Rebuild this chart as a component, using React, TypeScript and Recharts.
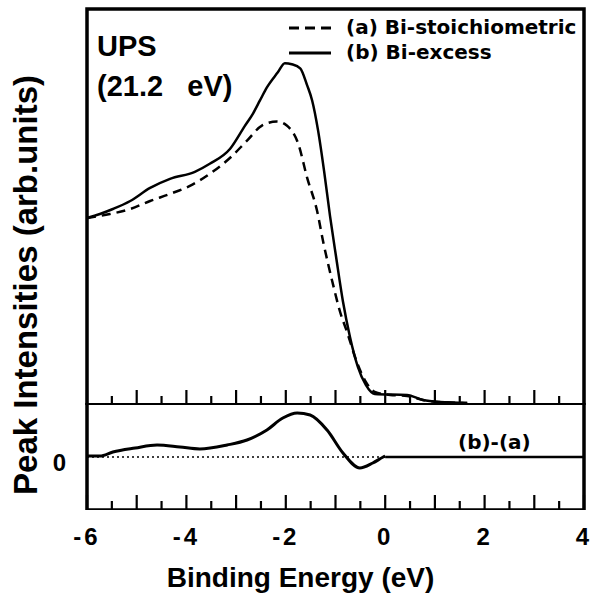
import { LineChart, Line, XAxis, YAxis, ReferenceArea, Legend, Label } from "recharts";

// binding energy axis (eV): long ticks every 1 eV, short ticks between, labels every 2 eV
const MAJOR_TICKS = [-6, -5, -4, -3, -2, -1, 0, 1, 2, 3, 4];
const MINOR_TICKS = [-5.5, -4.5, -3.5, -2.5, -1.5, -0.5, 0.5, 1.5, 2.5, 3.5];
const LABEL_TICKS = [-6, -4, -2, 0, 2, 4];

// (a) Bi-stoichiometric, dashed
const energyA = [-6, -5.54, -5.13, -4.73, -4.33, -3.93, -3.53, -3.12, -2.78, -2.48, -2.18, -1.98, -1.75, -1.57, -1.37, -1.25, -1.05, -0.91, -0.77, -0.55, -0.39, -0.21, 0.1, 0.44, 0.76, 1.1, 1.65];
const intensityA = [186, 190, 195, 203, 210, 218, 230, 246, 263, 278, 282, 278, 260, 226, 193, 163, 120, 93, 73, 40, 23, 13, 10, 9, 5, 3, 2];

// (b) Bi-excess, solid
const energyB = [-6, -5.74, -5.48, -5.13, -4.73, -4.33, -3.83, -3.53, -3.12, -2.82, -2.66, -2.52, -2.38, -2.16, -2.02, -1.88, -1.71, -1.57, -1.47, -1.35, -1.23, -1.11, -0.99, -0.85, -0.71, -0.55, -0.39, -0.21, 0.44, 0.76, 1.1, 1.65];
const intensityB = [186, 190, 195, 203, 216, 225, 232, 240, 255, 278, 290, 303, 316, 331, 340, 339, 335, 318, 303, 273, 233, 188, 148, 103, 68, 38, 20, 11, 10, 5, 3, 2];

// (b)-(a) difference
const energyDiff = [-6, -5.74, -5.48, -5.03, -4.59, -4.13, -3.73, -3.18, -2.78, -2.38, -2.06, -1.77, -1.51, -1.17, -0.85, -0.51, -0.25, -0.04, 0];
const diffValues = [0, 0, 4, 8, 11, 9, 7, 11, 16, 26, 38, 43, 41, 26, 3, -12, -7, -1, 0];

// zero baseline: dotted below 0 eV, solid above
const baselineDotted = [{ x: -6, y: 0 }, { x: 0, y: 0 }];
const baselineSolid = [{ x: 0, y: 0 }, { x: 4, y: 0 }];

const dataA = energyA.map((x, i) => ({ x, y: intensityA[i] }));
const dataB = energyB.map((x, i) => ({ x, y: intensityB[i] }));
const dataDiff = energyDiff.map((x, i) => ({ x, y: diffValues[i] }));

const TOP_Y = [0, 394];
const BOTTOM_Y = [-52, 53];

const SANS = "'Liberation Sans', Arial, Helvetica, sans-serif";
const LEG_FONT = "'DejaVu Sans', Verdana, sans-serif";

const renderLegend = () => (
  <div style={{ fontFamily: LEG_FONT, fontWeight: "bold", fontSize: 20, color: "#000", lineHeight: "25px" }}>
    {[
      { name: "(a) Bi-stoichiometric", dash: "10 6" },
      { name: "(b) Bi-excess", dash: undefined },
    ].map((item) => (
      <div key={item.name} style={{ display: "flex", alignItems: "center", height: 25 }}>
        <svg width={44} height={10} style={{ marginRight: 14 }}>
          <line x1={1} y1={5} x2={43} y2={5} stroke="#000" strokeWidth={3} strokeDasharray={item.dash} />
        </svg>
        <span>{item.name}</span>
      </div>
    ))}
  </div>
);

const MAJOR_LEN = 15;
const MINOR_LEN = 8;

const noLabel = () => <g />;
const noLegend = () => null;

const renderLabelTick = (props: any) => {
  const { x, y, payload } = props;
  return (
    <text x={x} y={y + 20} dy="0.71em" textAnchor="middle" fill="#000" fontFamily={SANS} fontWeight="bold" fontSize={24} letterSpacing={3}>
      {payload.value}
    </text>
  );
};

// inward (mirrored) tick marks, no labels
const tickAxis = {
  type: "number" as const,
  dataKey: "x",
  domain: [-6, 4],
  height: 1,
  mirror: true,
  interval: 0,
  axisLine: false,
  tickMargin: 0,
  tickLine: { stroke: "#000", strokeWidth: 2.2 },
};

export default function App() {
  return (
    <div style={{ position: "absolute", left: 0, top: 0, width: 595, height: 596, background: "#fff" }}>
      {/* upper panel */}
      <div style={{ position: "absolute", left: 0, top: 0 }}>
        <LineChart width={595} height={405} margin={{ top: 9, right: 11, bottom: 0, left: 87 }}>
          <XAxis xAxisId={0} {...tickAxis} ticks={MAJOR_TICKS} tickSize={MAJOR_LEN} tick={noLabel} />
          <XAxis xAxisId="minor" {...tickAxis} ticks={MINOR_TICKS} tickSize={MINOR_LEN} tick={noLabel} />
          <YAxis hide type="number" domain={TOP_Y} />
          <ReferenceArea x1={-6} x2={4} y1={TOP_Y[0]} y2={TOP_Y[1]} fill="none" stroke="#000" strokeWidth={3.5} />
          <Line xAxisId="minor" data={dataA} dataKey="y" name="(a) Bi-stoichiometric" type="monotone" stroke="#000" strokeWidth={2.5} strokeDasharray="9 6" dot={false} isAnimationActive={false} />
          <Line xAxisId={0} data={dataB} dataKey="y" name="(b) Bi-excess" type="monotone" stroke="#000" strokeWidth={2.5} dot={false} isAnimationActive={false} />
          <Legend
            layout="vertical"
            align="center"
            verticalAlign="middle"
            content={renderLegend}
            wrapperStyle={{ top: 15, left: 288, width: 300 }}
          />
        </LineChart>
      </div>
      {/* lower panel: difference curve and axis labels */}
      <div style={{ position: "absolute", left: 0, top: 403 }}>
        <LineChart width={595} height={193} margin={{ top: 0, right: 11, bottom: 87, left: 86 }}>
          <XAxis
            type="number"
            dataKey="x"
            domain={[-6, 4]}
            ticks={LABEL_TICKS}
            interval={0}
            height={1}
            axisLine={false}
            tickLine={false}
            tickSize={0}
            tickMargin={0}
            tick={renderLabelTick}
          >
            <Label value="Binding Energy (eV)" position="bottom" offset={58} dx={-35} style={{ fill: "#000", fontSize: 28, fontWeight: "bold", fontFamily: SANS }} />
          </XAxis>
          <YAxis
            type="number"
            domain={BOTTOM_Y}
            ticks={[0]}
            interval={0}
            width={1}
            axisLine={false}
            tickLine={false}
            tickSize={0}
            tickMargin={21}
            tick={{ fill: "#000", fontSize: 24, fontWeight: "bold", fontFamily: SANS, dy: 6 }}
          />
          <Line data={dataDiff} dataKey="y" type="monotone" stroke="#000" strokeWidth={3} dot={false} isAnimationActive={false} />
        </LineChart>
      </div>
      {/* lower panel: frame, baseline and tick marks */}
      <div style={{ position: "absolute", left: 0, top: 403 }}>
        <LineChart width={595} height={107} margin={{ top: 0, right: 11, bottom: 0, left: 87 }}>
          <XAxis xAxisId={0} {...tickAxis} ticks={MAJOR_TICKS} tickSize={MAJOR_LEN} tick={noLabel} />
          <XAxis xAxisId="minor" {...tickAxis} ticks={MINOR_TICKS} tickSize={MINOR_LEN} tick={noLabel} />
          <YAxis hide type="number" domain={BOTTOM_Y} />
          <ReferenceArea x1={-6} x2={4} y1={BOTTOM_Y[0]} y2={BOTTOM_Y[1]} fill="none" stroke="#000" strokeWidth={3.5} />
          <Line xAxisId={0} data={baselineDotted} dataKey="y" type="linear" stroke="#000" strokeWidth={1.5} strokeDasharray="2 3" dot={false} isAnimationActive={false} />
          <Line xAxisId="minor" data={baselineSolid} dataKey="y" type="linear" stroke="#000" strokeWidth={2.5} dot={false} isAnimationActive={false} />
          <Legend layout="vertical" align="center" verticalAlign="middle" content={noLegend} wrapperStyle={{ top: 0, left: 0 }} />
        </LineChart>
      </div>
      <svg width={595} height={596} style={{ position: "absolute", left: 0, top: 0, pointerEvents: "none" }}>
        <text x={97} y={56} fontFamily={SANS} fontWeight="bold" fontSize={29} fill="#000">UPS</text>
        <text x={97} y={96} fontFamily={SANS} fontWeight="bold" fontSize={29} fill="#000" style={{ whiteSpace: "pre" }}>{"(21.2   eV)"}</text>
        <text x={458} y={449} fontFamily={LEG_FONT} fontWeight="bold" fontSize={20} fill="#000">(b)-(a)</text>
        <text x={37} y={285} transform="rotate(-90, 37, 285)" textAnchor="middle" fontFamily={SANS} fontWeight="bold" fontSize={33} fill="#000">Peak Intensities (arb.units)</text>
      </svg>
    </div>
  );
}
